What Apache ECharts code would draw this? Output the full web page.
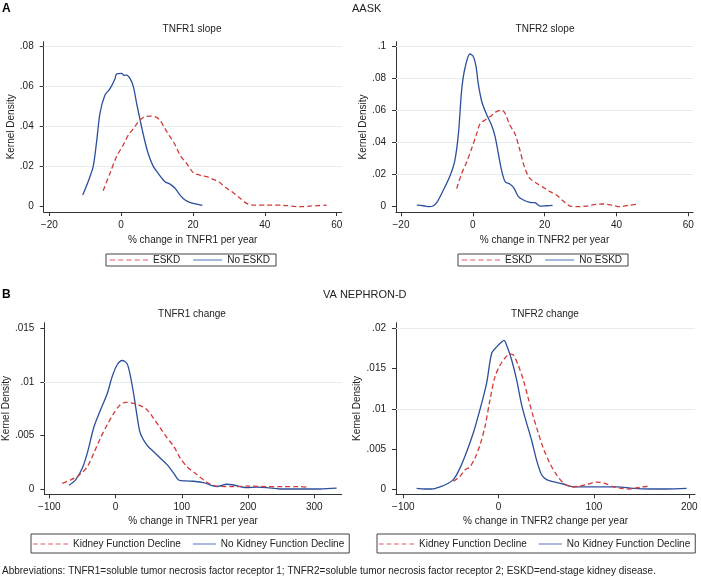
<!DOCTYPE html>
<html><head><meta charset="utf-8">
<script src="https://cdn.jsdelivr.net/npm/echarts@6/dist/echarts.min.js"></script>
<style>html,body{margin:0;padding:0;background:#fff}#c{width:701px;height:578px}</style>
</head><body><div id="c"></div>
<script>
// ---------- DATA ----------
const aaskTnfr1Eskd = [[-5.0,0.008],[-3.1,0.0167],[-1.3,0.025],[0.6,0.031],[2.0,0.0358],[3.4,0.039],[4.8,0.0425],[6.2,0.0447],[8.0,0.0453],[9.4,0.045],[10.8,0.0433],[12.2,0.039],[13.6,0.035],[15.0,0.031],[16.4,0.0258],[18.2,0.0217],[20.1,0.017],[21.9,0.0158],[23.8,0.015],[25.6,0.0137],[27.5,0.012],[29.4,0.0092],[31.2,0.007],[33.1,0.0042],[34.9,0.0017],[36.8,0.0008],[40.5,0.0008],[45.1,0.0007],[49.8,0.0],[52.5,0.0003],[57.2,0.0008]];
const aaskTnfr1NoEskd = [[-10.7,0.0058],[-9.2,0.0125],[-7.8,0.020],[-6.8,0.033],[-5.9,0.0467],[-4.5,0.0558],[-3.1,0.059],[-1.7,0.064],[-1.3,0.0663],[0.1,0.0667],[0.8,0.0657],[1.5,0.0658],[2.5,0.064],[3.4,0.060],[4.3,0.0517],[5.2,0.044],[6.3,0.035],[7.5,0.0267],[8.9,0.0203],[10.3,0.0167],[12.2,0.0125],[13.6,0.0113],[15.0,0.0092],[16.4,0.0058],[17.8,0.0033],[19.1,0.0022],[21.0,0.0013],[22.6,0.0007]];
const aaskTnfr2Eskd = [[-4.5,0.0113],[-3.1,0.0208],[-1.7,0.028],[-0.3,0.0365],[1.1,0.0458],[2.0,0.0517],[3.4,0.0542],[4.8,0.0563],[6.6,0.0594],[8.0,0.0604],[9.0,0.0583],[10.3,0.051],[11.7,0.0458],[13.1,0.0354],[14.5,0.024],[15.9,0.0177],[17.8,0.0146],[19.6,0.0121],[21.5,0.0094],[23.3,0.0073],[25.2,0.0035],[27.1,0.0004],[29.8,0.0],[31.7,0.0004],[34.5,0.0015],[36.3,0.0017],[38.7,0.001],[41.0,0.0],[43.3,0.0008],[45.6,0.0015]];
const aaskTnfr2NoEskd = [[-15.6,0.001],[-13.8,0.0006],[-12.1,0.0],[-11.0,0.0006],[-9.9,0.003],[-8.2,0.0104],[-6.4,0.019],[-5.0,0.029],[-4.0,0.0458],[-3.1,0.073],[-2.2,0.0865],[-0.8,0.0954],[0.1,0.094],[0.9,0.0875],[1.5,0.077],[2.5,0.0656],[3.9,0.0573],[5.2,0.051],[6.2,0.0438],[7.1,0.0333],[8.0,0.0229],[9.0,0.0156],[10.3,0.0142],[11.5,0.0115],[12.7,0.0063],[14.1,0.0042],[15.9,0.0027],[17.3,0.0025],[18.7,0.0004],[20.6,0.0006],[22.2,0.0008]];
const vaTnfr1Decline = [[-80.4,0.00056],[-67.9,0.00087],[-55.3,0.0013],[-42.8,0.0021],[-32.7,0.0034],[-22.7,0.0048],[-12.7,0.006],[-2.6,0.0071],[7.4,0.0079],[14.9,0.0081],[27.5,0.008],[37.5,0.0078],[47.6,0.0074],[57.6,0.0066],[67.6,0.0057],[77.7,0.0048],[87.7,0.004],[97.7,0.0029],[107.8,0.0021],[120.3,0.0015],[130.4,0.001],[140.4,0.00056],[152.9,0.0003],[178,0.00025],[203,0.0003],[228,0.00025],[253,0.00025],[278,0.00025],[288.5,0.0002]];
const vaTnfr1NoDecline = [[-70.4,0.00037],[-60.4,0.00087],[-50.3,0.00196],[-42.8,0.00335],[-32.7,0.0058],[-22.7,0.0074],[-12.7,0.0089],[-5.1,0.0105],[2.4,0.0116],[9.9,0.0120],[17.4,0.0117],[22.5,0.0105],[27.5,0.0088],[32.5,0.0068],[37.5,0.0052],[47.6,0.0041],[57.6,0.0035],[67.6,0.0029],[77.7,0.0023],[87.7,0.0015],[95.2,0.00087],[105.3,0.00078],[117.8,0.00075],[132.9,0.00062],[152.9,0.00025],[168,0.00047],[178,0.0004],[198,0.00016],[213,0.0002],[228,0.00016],[248,0.00003],[278,0.00003],[308.5,0.00003],[333.6,0.0001]];
const vaTnfr2Decline = [[-47.6,0.001],[-40.6,0.0016],[-35.3,0.0024],[-30.1,0.0028],[-24.8,0.0039],[-19.6,0.0055],[-14.3,0.0078],[-9.1,0.0111],[-3.8,0.014],[1.4,0.0154],[6.6,0.0163],[11.9,0.0168],[15.4,0.0167],[20.6,0.0154],[25.9,0.0136],[31.1,0.0113],[36.4,0.009],[41.6,0.007],[46.9,0.0051],[53.8,0.0032],[60.8,0.0018],[67.8,0.0008],[76.6,0.0003],[85.3,0.0004],[94.1,0.00066],[102.8,0.0009],[111.5,0.00075],[120.3,0.0003],[129,0.00012],[137.8,0.00004],[148.3,0.00025],[158.7,0.0004]];
const vaTnfr2NoDecline = [[-86,0.00012],[-77.3,0.00004],[-70.3,0.00004],[-61.5,0.0003],[-52.8,0.00075],[-47.6,0.0012],[-42.3,0.0022],[-35.3,0.0041],[-26.6,0.007],[-19.6,0.0099],[-12.6,0.0132],[-7.3,0.0169],[-2.1,0.0177],[3.1,0.0183],[5.6,0.0185],[8.4,0.0179],[13.6,0.0161],[18.9,0.0136],[24.1,0.0105],[29.4,0.0082],[34.6,0.0061],[39.9,0.0036],[45.1,0.0018],[50.3,0.0012],[57.3,0.00095],[67.8,0.00066],[78.3,0.0003],[88.8,0.0003],[106.3,0.0003],[123.8,0.0003],[141.3,0.00012],[158.7,0.00004],[176.2,0.00004],[197.2,0.00012]];

const ticksXA = [-20, 0, 20, 40, 60];
const ticksYA1 = [0, 0.02, 0.04, 0.06, 0.08];
const ticksYA2 = [0, 0.02, 0.04, 0.06, 0.08, 0.1];
const ticksXB1 = [-100, 0, 100, 200, 300];
const ticksYB1 = [0, 0.005, 0.01, 0.015];
const ticksXB2 = [-100, 0, 100, 200];
const ticksYB2 = [0, 0.005, 0.01, 0.015, 0.02];

const legendA = ['ESKD', 'No ESKD'];
const legendB = ['Kidney Function Decline', 'No Kidney Function Decline'];

// ---------- STYLE / LAYOUT ----------
const FONT = "'Liberation Sans', Arial, Helvetica, sans-serif";
const RED = '#d23a3a', BLUE = '#2b4f9c', GRID = '#e5edf1', AX = '#333';
const LRED = '#de5a62', LBLUE = '#4f72b8';
const fmtX = v => v < 0 ? '\u2212' + Math.abs(v) : String(v);
const fmtY = v => v === 0 ? '0' : String(v).replace(/^0\./, '.');

const panels = [
  {grid:{left:43.7, top:41.7, width:298, height:170.3}, xr:[-21.56,61.39], yr:[-0.00265,0.0825], tx:ticksXA, ty:ticksYA1, xname:'% change in TNFR1 per year', xgap:23, ygap:26.5, s:[[legendA[0],aaskTnfr1Eskd],[legendA[1],aaskTnfr1NoEskd]]},
  {grid:{left:396, top:41.7, width:297, height:170.6}, xr:[-21.39,61.31], yr:[-0.0035,0.1031], tx:ticksXA, ty:ticksYA2, xname:'% change in TNFR2 per year', xgap:23, ygap:28, s:[[legendA[0],aaskTnfr2Eskd],[legendA[1],aaskTnfr2NoEskd]]},
  {grid:{left:43.7, top:322.7, width:298, height:171.6}, xr:[-107.5,341.3], yr:[-0.000466,0.01552], tx:ticksXB1, ty:ticksYB1, xname:'% change in TNFR1 per year', xgap:21.5, ygap:32.5, s:[[legendB[0],vaTnfr1Decline],[legendB[1],vaTnfr1NoDecline]]},
  {grid:{left:396, top:322.7, width:299, height:171.6}, xr:[-107.66,205.98], yr:[-0.00062,0.0207], tx:ticksXB2, ty:ticksYB2, xname:'% change in TNFR2 change per year', xgap:21.5, ygap:30.5, s:[[legendB[0],vaTnfr2Decline],[legendB[1],vaTnfr2NoDecline]]}
];

const grids = [], xAxes = [], yAxes = [], series = [];
panels.forEach((p, i) => {
  grids.push(Object.assign({containLabel:false}, p.grid));
  xAxes.push({type:'value', gridIndex:i, min:p.xr[0], max:p.xr[1],
    axisLine:{show:true, onZero:false, lineStyle:{color:AX, width:1}},
    axisTick:{show:true, customValues:p.tx, length:4, lineStyle:{color:AX}},
    axisLabel:{customValues:p.tx, formatter:fmtX, fontSize:10, fontFamily:FONT, color:'#222', margin:8},
    splitLine:{show:false},
    name:p.xname, nameLocation:'middle', nameGap:p.xgap, nameTextStyle:{fontSize:10, fontFamily:FONT, color:'#222'}});
  yAxes.push({type:'value', gridIndex:i, min:p.yr[0], max:p.yr[1],
    axisLine:{show:true, onZero:false, lineStyle:{color:AX, width:1}},
    axisTick:{show:true, customValues:p.ty, length:4, lineStyle:{color:AX}},
    axisLabel:{customValues:p.ty, formatter:fmtY, fontSize:10, fontFamily:FONT, color:'#222', margin:10},
    splitLine:{show:false},
    name:'Kernel Density', nameLocation:'middle', nameGap:p.ygap, nameRotate:90, nameTextStyle:{fontSize:10, fontFamily:FONT, color:'#222'}});
  p.s.forEach((sd, k) => {
    const s = {type:'line', name:sd[0], xAxisIndex:i, yAxisIndex:i, data:sd[1], smooth:0.3,
      symbol:'none', showSymbol:false, silent:true, animation:false, z: k === 0 ? 3 : 2,
      lineStyle:{color: k === 0 ? RED : BLUE, width:1.3, type: k === 0 ? [5,3] : 'solid'},
      itemStyle:{color: k === 0 ? RED : BLUE}};
    if (k === 1) {
      s.markLine = {silent:true, symbol:'none', animation:false, label:{show:false},
        lineStyle:{color:GRID, width:1, type:'solid'}, z:1,
        data:p.ty.filter(v => v !== 0).map(v => ({yAxis:v}))};
    }
    series.push(s);
  });
});

// legend key icons (dashed key for the first item, shorter solid key for the second)
const dashIcon = 'path://M0,0h5v1h-5z M8,0h5v1h-5z M16,0h5v1h-5z M24,0h5v1h-5z M32,0h5v1h-5z';
const solidIconA = 'path://M0,0h0.01v1h-0.01z M9,0h29v1h-29z';
const solidIconB = 'path://M0,0h0.01v1h-0.01z M12,0h23v1h-23z';

const legItem = (name, icon, color) => ({name, icon,
  itemStyle:{color, borderWidth:0, borderColor:color, borderType:'solid', opacity:1, decal:'none'}});
const legendBase = {orient:'horizontal', itemHeight:2, selectedMode:false,
  borderColor:'#444', borderWidth:1, textStyle:{fontSize:10, fontFamily:FONT, color:'#222'},
  itemStyle:{borderWidth:0}};
const legends = [
  Object.assign({}, legendBase, {data:[legItem(legendA[0], dashIcon, LRED), legItem(legendA[1], solidIconA, LBLUE)], left:106, top:254, itemWidth:38, itemGap:4, padding:[1,6,1,4]}),
  Object.assign({}, legendBase, {data:[legItem(legendA[0], dashIcon, LRED), legItem(legendA[1], solidIconA, LBLUE)], left:458, top:254, itemWidth:38, itemGap:4, padding:[1,6,1,4]}),
  Object.assign({}, legendBase, {data:[legItem(legendB[0], dashIcon, LRED), legItem(legendB[1], solidIconB, LBLUE)], left:31, top:534, itemWidth:35, itemGap:0, padding:[5,5,4,2]}),
  Object.assign({}, legendBase, {data:[legItem(legendB[0], dashIcon, LRED), legItem(legendB[1], solidIconB, LBLUE)], left:377, top:534, itemWidth:35, itemGap:0, padding:[5,5,4,2]})
];

const txt = (x, y, text, opt) => ({type:'text', x, y, silent:true,
  style:Object.assign({text, font:'10px ' + FONT, fill:'#222', textAlign:'left', textVerticalAlign:'middle'}, opt || {})});
const graphics = [
  txt(2, 9, 'A', {font:'bold 12px ' + FONT, fill:'#000'}),
  txt(352, 9, 'AASK', {font:'11px ' + FONT}),
  txt(192, 29, 'TNFR1 slope', {textAlign:'center'}),
  txt(545, 29, 'TNFR2 slope', {textAlign:'center'}),
  txt(2, 295, 'B', {font:'bold 12px ' + FONT, fill:'#000'}),
  txt(323, 295, 'VA NEPHRON-D', {font:'11px ' + FONT}),
  txt(192, 314, 'TNFR1 change', {textAlign:'center'}),
  txt(545, 314, 'TNFR2 change', {textAlign:'center'}),
  txt(2, 571.5, 'Abbreviations: TNFR1=soluble tumor necrosis factor receptor 1; TNFR2=soluble tumor necrosis factor receptor 2; ESKD=end-stage kidney disease.')
];

const chart = echarts.init(document.getElementById('c'), null, {renderer:'canvas'});
chart.setOption({animation:false, backgroundColor:'#fff', grid:grids, xAxis:xAxes, yAxis:yAxes,
  series, legend:legends, graphic:graphics});
</script></body></html>
